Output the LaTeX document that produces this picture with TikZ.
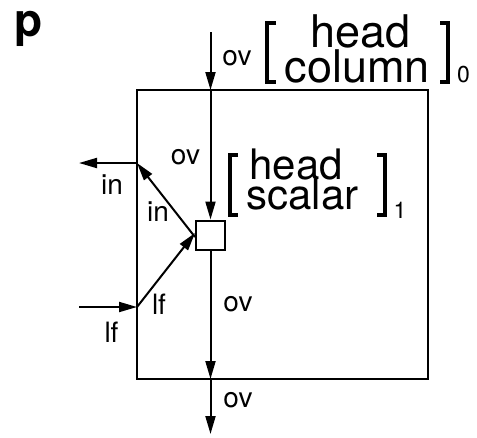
\documentclass[tikz,border=0pt]{standalone}
\usepackage{fontspec}
\setmainfont{TeX Gyre Heros}
\usetikzlibrary{arrows.meta}
\tikzset{
  arr/.style={line width=2pt, -{Triangle[length=18pt,width=10pt]}},
  lbl/.style={font=\fontsize{28}{30}\selectfont, anchor=base, inner sep=0pt},
  bigtxt/.style={font=\fontsize{45}{35}\selectfont, anchor=base, inner sep=0pt},
  midtxt/.style={font=\fontsize{42}{32}\selectfont, anchor=base, inner sep=0pt},
  subtxt/.style={font=\fontsize{23}{25}\selectfont, inner sep=0pt},
  brk/.style={line width=3.5pt, line cap=butt},
}
\begin{document}
\begin{tikzpicture}[x=1pt,y=-1pt]
\useasboundingbox (0,0) rectangle (477,437);
% panel letter
\node[font=\fontsize{46}{50}\selectfont\bfseries, anchor=base west, inner sep=0pt] (p) at (14,36) {p};
% main box
\node[draw, line width=2pt, minimum width=291pt, minimum height=289pt, inner sep=0pt] (box) at (282.5,234.5) {};
% small square
\node[draw, line width=2pt, minimum size=29pt, inner sep=0pt, fill=white] (sq) at (210.5,235) {};
% coordinates
\coordinate (t0) at (210.5,32);
\coordinate (bt) at (210.5,90);
\coordinate (bb) at (210.5,379);
\coordinate (t1) at (210.5,434);
\coordinate (ia) at (137,163);
\coordinate (ie) at (79,163);
\coordinate (lfa) at (137,307);
\coordinate (lfs) at (79,307);
% vertical flow
\draw[arr] (t0) -- (bt);
\draw[arr] (bt) -- (sq.north);
\draw[arr] (sq.south) -- (bb);
\draw[arr] (bb) -- (t1);
% in
\draw[arr] ([yshift=-2pt]sq.west) -- (ia);
\draw[arr] (ia) -- (ie);
% lf
\draw[arr] (lfs) -- (lfa);
\draw[arr] (lfa) -- ([yshift=2pt]sq.west);
% labels
\node[lbl] (ov1) at (237,65) {ov};
\node[lbl] (ov2) at (185.5,164) {ov};
\node[lbl] (ov3) at (238,311) {ov};
\node[lbl] (ov4) at (238,407) {ov};
\node[lbl] (in1) at (112,194) {in};
\node[lbl] (in2) at (158,221) {in};
\node[lbl] (lf1) at (159,314) {lf};
\node[lbl] (lf2) at (111.5,342) {lf};
% top feature structure
\draw[brk] (276,23) -- (267,23) -- (267,82) -- (276,82);
\draw[brk] (440,23) -- (448,23) -- (448,82) -- (440,82);
\node[bigtxt] (h0) at (360.5,47) {head};
\node[bigtxt] (c0) at (357.5,82) {column};
\node[subtxt] (s0) at (463.5,75) {0};
% inner feature structure
\draw[brk] (238,155) -- (230,155) -- (230,215) -- (238,215);
\draw[brk] (377,155) -- (385,155) -- (385,215) -- (377,215);
\node[midtxt] (h1) at (296,179) {head};
\node[midtxt] (c1) at (302.5,209) {scalar};
\node[subtxt] (s1) at (400,210) {1};
\end{tikzpicture}
\end{document}
